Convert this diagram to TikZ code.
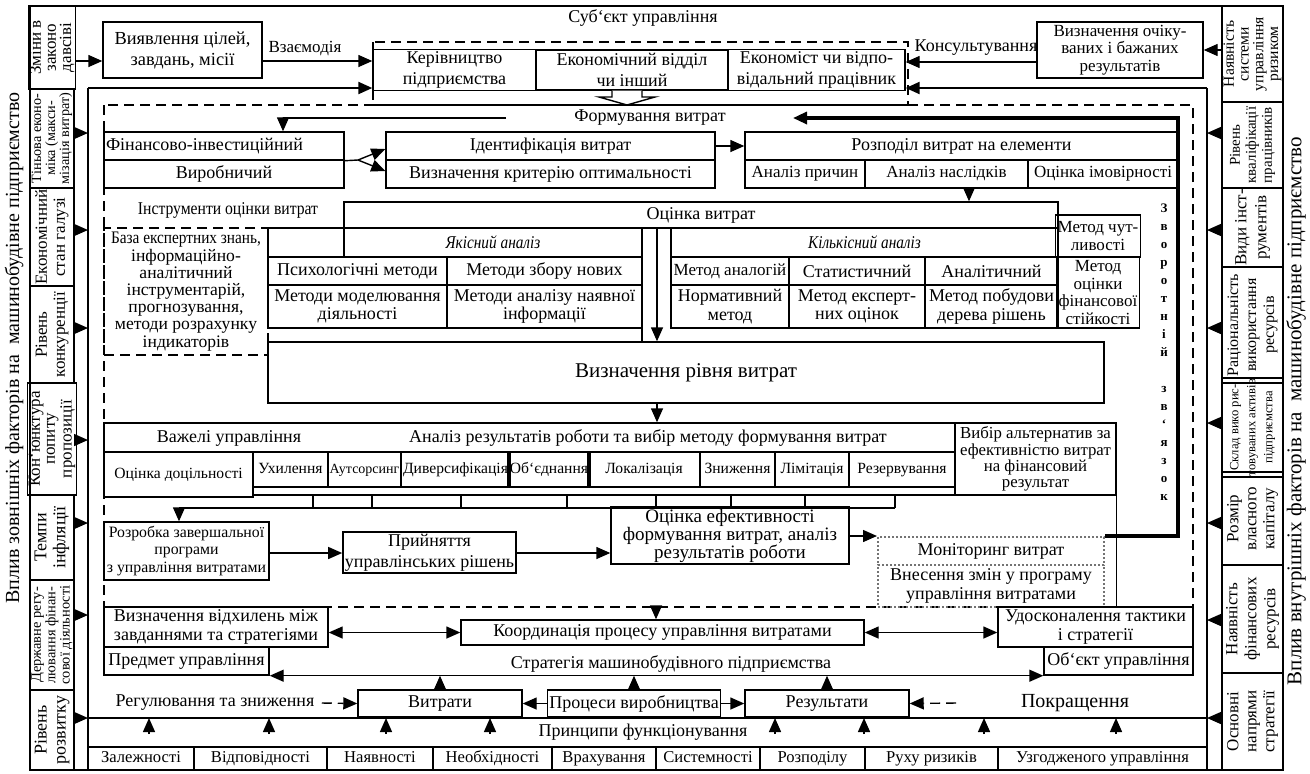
\documentclass[tikz,border=0pt]{standalone}
\usepackage{fontspec}
\setmainfont{Liberation Serif}
\usepackage{graphicx}
\usetikzlibrary{arrows.meta}

\begin{document}
\begin{tikzpicture}[x=0.5pt,y=-0.5pt,line width=0.7pt,>={Triangle[length=7pt,width=6pt]},
  font=\fontsize{9}{9.2}\selectfont]
  \tikzstyle{cell}=[draw,inner sep=1pt,align=center]
  \tikzstyle{sidebox}=[draw,inner sep=0.5pt,align=center,rotate=90,font=\fontsize{8}{7.4}\selectfont]
  \tikzstyle{smalltxt}=[font=\fontsize{7.8}{8}\selectfont,text height=5.6pt,text depth=1.6pt]
  \tikzstyle{midtxt}=[font=\fontsize{8.5}{8.8}\selectfont]
  \tikzstyle{rowtxt}=[font=\fontsize{8.3}{8.5}\selectfont,text height=6pt,text depth=1.7pt]
  \tikzstyle{framelines}=[line width=1.1pt]
  \tikzstyle{dashbox}=[dash pattern=on 5pt off 3pt]
  \tikzstyle{dotbox}=[draw=black!55,densely dotted,line width=1pt]
  \tikzstyle{feed}=[line width=1.6pt]
  \tikzset{sz/.style 2 args={minimum width=#1*0.5pt,minimum height=#2*0.5pt}}
  \useasboundingbox (0,0) rectangle (1310,773);

  % frames
  \draw[framelines] (30,6) rectangle (1283,770);
  \coordinate (ftl) at (88,88);
  \coordinate (ftr) at (1207,88);
  \draw[framelines] (88,770) -- (ftl);
  \draw[framelines] (1207,770) -- (ftr);

  % outside factors
  \node[rotate=90,font=\fontsize{10}{10}\selectfont] (extin) at (14,348) {Вплив зовнішніх факторів на\ \ машинобудівне підприємство};
  \node[sidebox,sz={83}{44},font=\fontsize{8.5}{7.6}\selectfont] (L1) at (52,47.5) {Зміни в\\законо\\давсіві};
  \node[sidebox,sz={99}{44},font=\fontsize{7.1}{7}\selectfont] (L2) at (52,138.5) {Тіньова еконо-\\міка (макси-\\мізація витрат)};
  \node[sidebox,sz={98}{44},font=\fontsize{8.5}{9}\selectfont] (L3) at (52,237) {Економічний\\стан галузі};
  \node[sidebox,sz={97}{44},font=\fontsize{8.5}{9}\selectfont] (L4) at (52,334.5) {Рівень\\конкуренції};
  \node[sidebox,sz={112}{44},font=\fontsize{8.5}{7.4}\selectfont] (L5) at (52,439) {Кон`юнктура\\попиту\\пропозиції};
  \node[sidebox,sz={85}{44},font=\fontsize{9}{9.5}\selectfont] (L6) at (52,537.5) {Темпи\\інфляції};
  \node[sidebox,sz={110}{44},font=\fontsize{7.2}{7.2}\selectfont] (L7) at (52,635) {Державне регу-\\лювання фінан-\\сової діяльності};
  \node[sidebox,sz={80}{44},font=\fontsize{9}{9.5}\selectfont] (L8) at (52,730) {Рівень\\розвитку};

  % inside factors
  \node[rotate=90,font=\fontsize{10.5}{10.5}\selectfont] (intin) at (1296,411) {Вплив внутрішніх факторів на\ \ машинобудівне підприємство};
  \node[sidebox,sz={96}{61},font=\fontsize{7.8}{7.4}\selectfont] (R1) at (1252.5,54) {Наявність\\системи\\управління\\ризиком};
  \node[sidebox,sz={86}{61},font=\fontsize{7.5}{8}\selectfont] (R2) at (1252.5,145) {Рівень\\кваліфікації\\працівників};
  \node[sidebox,sz={79}{61},font=\fontsize{8.5}{10}\selectfont] (R3) at (1252.5,227.5) {Види інст-\\рументів};
  \node[sidebox,sz={116}{61},font=\fontsize{8}{9}\selectfont] (R4) at (1252.5,325) {Раціональність\\використання\\ресурсів};
  \node[sidebox,sz={89}{61},font=\fontsize{6.3}{8.5}\selectfont] (R5) at (1252.5,427.5) {Склад вико рис-\\товуваних активів\\підприємства};
  \node[sidebox,sz={93}{61},font=\fontsize{8.5}{9}\selectfont] (R6) at (1252.5,518.5) {Розмір\\власного\\капіталу};
  \node[sidebox,sz={108}{61},font=\fontsize{8.5}{9.5}\selectfont] (R7) at (1252.5,619) {Наявність\\фінансових\\ресурсів};
  \node[sidebox,sz={97}{61},font=\fontsize{8.5}{9}\selectfont] (R8) at (1252.5,721.5) {Основні\\напрями\\стратегії};

  % subject of management
  \node (subjtitle) at (643,18) {Суб`єкт управління};
  \node[cell,sz={159}{56},font=\fontsize{9.2}{10.5}\selectfont] (find) at (182.5,50) {Виявлення цілей,\\завдань, місії};
  \node[cell,sz={163}{40},font=\fontsize{9}{10.6}\selectfont] (boss) at (454.5,70) {Керівництво\\підприємства};
  \node[cell,sz={192}{40},font=\fontsize{9}{10.6}\selectfont] (dept) at (632,70) {Економічний відділ\\чи інший};
  \node[cell,sz={177}{40},font=\fontsize{9}{10.6}\selectfont] (econ) at (816.5,70) {Економіст чи відпо-\\відальний працівник};
  \node[cell,sz={166}{56},midtxt] (goal) at (1120,50) {Визначення очіку-\\ваних і бажаних\\результатів};
  \node[midtxt] (interact) at (305,49) {Взаємодія};
  \node (consult) at (976,48) {Консультування};
  \draw[dashbox] (373,42) rectangle (908,105);
  \draw[->] (L1.south |- 0,61) -- (find.west |- 0,61);
  \draw[->] (find.east |- 0,61) -- (boss.west |- 0,61);
  \draw[->] (goal.west |- 0,62) -- (econ.east |- 0,62);
  \draw[framelines,->] (ftl) -- (boss.west |- ftl);
  \draw[framelines,->] (ftr) -- (econ.east |- ftr);
  \draw[fill=white] (dept.south -| 612,0) -- (612,97) -- (599,97) -- (627,105) -- (655,97) -- (642,97) -- (dept.south -| 642,0);

  % side arrows
  \foreach \n/\y in {2/133,3/230,4/328,5/440,6/523,7/615,8/718}
    \draw[->] (L\n.south |- 0,\y) -- (ftl |- 0,\y);
  \draw[->] (R1.north |- 0,50) -- (goal.east |- 0,50);
  \foreach \n/\y in {2/133,3/230,4/328,5/423,6/523,7/620,8/718}
    \draw[->] (R\n.north |- 0,\y) -- (ftr |- 0,\y);

  % cost forming
  \draw[dashbox] (104,105) rectangle (1193,607);
  \node (form) at (650,118) {Формування витрат};
  \coordinate (formL) at (506,118);
  \coordinate (formR) at (793,118);
  \node[cell,sz={240}{28},text width=118pt,align=left] (fin1) at (224,146) {Фінансово-інвестиційний};
  \node[cell,sz={240}{28}] (fin2) at (224,174) {Виробничий};
  \node[cell,sz={329}{28}] (ident) at (550.5,146) {Ідентифікація витрат};
  \node[cell,sz={329}{28}] (crit) at (550.5,174) {Визначення критерію оптимальності};
  \node[cell,sz={433}{28}] (distr) at (961.5,146) {Розподіл витрат на елементи};
  \node[cell,sz={120}{28},midtxt] (cause) at (805,174) {Аналіз причин};
  \node[cell,sz={163}{28},midtxt] (conseq) at (946.5,174) {Аналіз наслідків};
  \node[cell,sz={150}{28},midtxt] (prob) at (1103,174) {Оцінка імовірності};
  \draw[->] (formL) -| (fin1.north -| 283,0);
  \coordinate (fork) at (358,160);
  \draw (fin1.south east) -- (fork);
  \draw[->] (fork) -- (ident.west |- 0,149);
  \draw[->] (fork) -- (crit.west |- 0,171);
  \draw[->] (ident.east) -- (distr.west);

  % cost assessment
  \node (tools) at (228,210) {\scalebox{0.87}[1]{Інструменти оцінки витрат}};
  \node[cell,sz={714}{26}] (assess) at (701,215) {Оцінка витрат};
  \node[cell,sz={76}{29}] (qgap) at (306,242.5) {};
  \node[cell,sz={298}{29}] (qual) at (493,242.5) {\itshape\scalebox{0.85}[1]{Якісний аналіз}};
  \node[cell,sz={179}{28}] (psych) at (357.5,271) {Психологічні методи};
  \node[cell,sz={195}{28}] (collect) at (544.5,271) {Методи збору нових};
  \node[cell,sz={179}{43}] (model) at (357.5,306.5) {Методи моделювання\\діяльності};
  \node[cell,sz={195}{43}] (exist) at (544.5,306.5) {Методи аналізу наявної\\інформації};
  \node[cell,sz={387}{29}] (quant) at (864.5,242.5) {\itshape\scalebox{0.85}[1]{Кількісний аналіз}};
  \node[cell,sz={118}{28},midtxt] (analog) at (730,271) {Метод аналогій};
  \node[cell,sz={136}{28}] (stat) at (857,271) {Статистичний};
  \node[cell,sz={133}{28}] (analyt) at (991.5,271) {Аналітичний};
  \node[cell,sz={118}{43}] (norm) at (730,306.5) {Нормативний\\метод};
  \node[cell,sz={136}{43}] (expert) at (857,306.5) {Метод експерт-\\них оцінок};
  \node[cell,sz={133}{43}] (tree) at (991.5,306.5) {Метод побудови\\дерева рішень};
  \node[cell,sz={80}{42},midtxt] (sens) at (1098,236) {Метод чут-\\ливості};
  \node[cell,sz={80}{71},midtxt] (stab) at (1098,292.5) {Метод\\оцінки\\фінансової\\стійкості};
  \node[cell,dashbox,sz={164}{127},font=\fontsize{8.8}{8.6}\selectfont] (base) at (186,291.5) {\scalebox{0.87}[1]{База експертних знань,}\\інформаційно-\\аналітичний\\інструментарій,\\прогнозування,\\методи розрахунку\\індикаторів};
  \node[cell,sz={836}{61},font=\fontsize{10.5}{12}\selectfont] (level) at (686,372.5) {Визначення рівня витрат};
  \draw[->] (conseq.south -| 969,0) -- (assess.north -| 969,0);
  \draw (assess.south -| 642,0) -- (level.north -| 642,0);
  \draw[->] (assess.south -| 657,0) -- (level.north -| 657,0);

  % feedback
  \node[font=\bfseries\fontsize{6.5}{9}\selectfont,align=center,inner sep=0pt] (fbtext) at (1164,352)
    {З\\в\\о\\р\\о\\т\\н\\і\\й\\[9pt]з\\в\\`\\я\\з\\о\\к};

  % levers
  \node[cell,sz={851}{29}] (hdr) at (529.5,437.5) {};
  \node (levers) at (229,438) {Важелі управління};
  \node (anal) at (648,438) {Аналіз результатів роботи та вибір методу формування витрат};
  \node[cell,sz={161}{72},font=\fontsize{8.4}{8.2}\selectfont] (alt) at (1035.5,459) {Вибір альтернатив за\\ефективністю витрат\\на фінансовий\\результат};
  \node[cell,sz={149}{45},smalltxt] (feas) at (178.5,474.5) {Оцінка доцільності};
  \node[cell,sz={75}{35},smalltxt] (dodge) at (290.5,469.5) {Ухилення};
  \node[cell,sz={73}{35},smalltxt,font=\fontsize{7}{7}\selectfont] (outs) at (364.5,469.5) {Аутсорсинг};
  \node[cell,sz={109}{35},smalltxt] (divers) at (455.5,469.5) {Диверсифікація};
  \node[cell,sz={78}{35},smalltxt] (merge) at (549,469.5) {Об`єднання};
  \node[cell,sz={112}{35},smalltxt] (local) at (644,469.5) {Локалізація};
  \node[cell,sz={75}{35},smalltxt] (reduce) at (737.5,469.5) {Зниження};
  \node[cell,sz={74}{35},smalltxt] (limit) at (812,469.5) {Лімітація};
  \node[cell,sz={106}{35},smalltxt] (reserve) at (902,469.5) {Резервування};
  \node[cell,sz={702}{8}] (strip) at (604,491) {};
  \coordinate (combL) at (179,508);
  \coordinate (combR) at (895,508);
  \foreach \x in {313,372,461,567,656,731,805,895}
    \draw (strip.south -| \x,0) -- (combL -| \x,0);
  \draw (combR) -- (combL);
  \draw[->] (level.south -| 657,0) -- (hdr.north -| 657,0);

  % programme
  \node[cell,sz={165}{58},font=\fontsize{7.9}{8.6}\selectfont] (dev) at (186.5,551) {Розробка завершальної\\програми\\з управління витратами};
  \node[cell,sz={171}{39},font=\fontsize{9}{10.5}\selectfont] (adopt) at (429.5,552.5) {Прийняття\\управлінських рішень};
  \node[cell,sz={238}{55},font=\fontsize{9.5}{9}\selectfont] (eff) at (730,535.5) {Оцінка ефективності\\формування витрат, аналіз\\результатів роботи};
  \node[cell,dotbox,sz={226}{28}] (mon) at (991,551) {Моніторинг витрат};
  \node[cell,dotbox,sz={226}{42}] (chg) at (991,586) {Внесення змін у програму\\управління витратами};
  \draw[->] (combL) -- (dev.north -| combL);
  \draw[->] (dev.east |- 0,553) -- (adopt.west |- 0,553);
  \draw[->] (adopt.east |- 0,553) -- (eff.west |- 0,553);
  \draw[->] (eff.east |- mon.north) -- (mon.north west);
  \draw (alt.south east) -- (alt.south east |- 0,607);
  \coordinate (fbk) at (1178,118);
  \draw[feed,->] (mon.north east) -| (fbk) -- (formR);

  % coordination and strategy
  \node[cell,sz={224}{40}] (devi) at (216,627) {Визначення відхилень між\\завданнями та стратегіями};
  \node[cell,sz={403}{25}] (coord) at (662.5,632.5) {Координація процесу управління витратами};
  \node[cell,sz={195}{40}] (impr) at (1095.5,627) {Удосконалення тактики\\і стратегії};
  \coordinate (drop) at (656,606);
  \draw[->] (drop) -- (coord.north -| drop);
  \draw[<->] (devi.east |- coord) -- (coord.west);
  \draw[<->] (coord.east) -- (impr.west |- coord);
  \node[cell,sz={165}{28}] (subj) at (186.5,661) {Предмет управління};
  \node[cell,sz={149}{28}] (obj) at (1118.5,661) {Об`єкт управління};
  \node (strat) at (671,664) {Стратегія машинобудівного підприємства};
  \draw[<->] (subj.south east) -- (obj.south west);

  % costs and results
  \node (reg) at (215,703) {Регулювання та зниження};
  \node[cell,sz={164}{27}] (costs) at (440,703.5) {Витрати};
  \node[cell,sz={164}{27}] (proc) at (634,703.5) {Процеси виробництва};
  \node[cell,sz={164}{27}] (res) at (827,703.5) {Результати};
  \node[font=\fontsize{10}{10}\selectfont] (better) at (1075,703) {Покращення};
  \coordinate (betterL) at (956,703);
  \draw[dashbox,->] (reg.east) -- (costs.west);
  \draw[dashbox,->] (betterL) -- (res.east);
  \draw[->] (proc.west) -- (costs.east);
  \draw[->] (proc.east) -- (res.west);
  \foreach \n in {costs,proc,res}
    \draw[->] (\n.north) -- (\n.north |- subj.south);

  % principles
  \coordinate (bandL) at (88,718);
  \coordinate (bandR) at (1207,718);
  \coordinate (tipbase) at (0,734);
  \draw (bandL) -- (bandR);
  \node (princ) at (643,732) {Принципи функціонування};
  \foreach \x in {149,269,386,490,775,864,984,1116}
    \draw[->] (tipbase -| \x,0) -- (bandL -| \x,0);
  \node[cell,sz={106}{23},rowtxt] (p1) at (141,758.5) {Залежності};
  \node[cell,sz={133}{23},rowtxt] (p2) at (260.5,758.5) {Відповідності};
  \node[cell,sz={106}{23},rowtxt] (p3) at (380,758.5) {Наявності};
  \node[cell,sz={119}{23},rowtxt] (p4) at (492.5,758.5) {Необхідності};
  \node[cell,sz={104}{23},rowtxt] (p5) at (604,758.5) {Врахування};
  \node[cell,sz={104}{23},rowtxt] (p6) at (708,758.5) {Системності};
  \node[cell,sz={105}{23},rowtxt] (p7) at (812.5,758.5) {Розподілу};
  \node[cell,sz={133}{23},rowtxt] (p8) at (931.5,758.5) {Руху ризиків};
  \node[cell,sz={209}{23},rowtxt] (p9) at (1102.5,758.5) {Узгодженого управління};
\end{tikzpicture}
\end{document}
